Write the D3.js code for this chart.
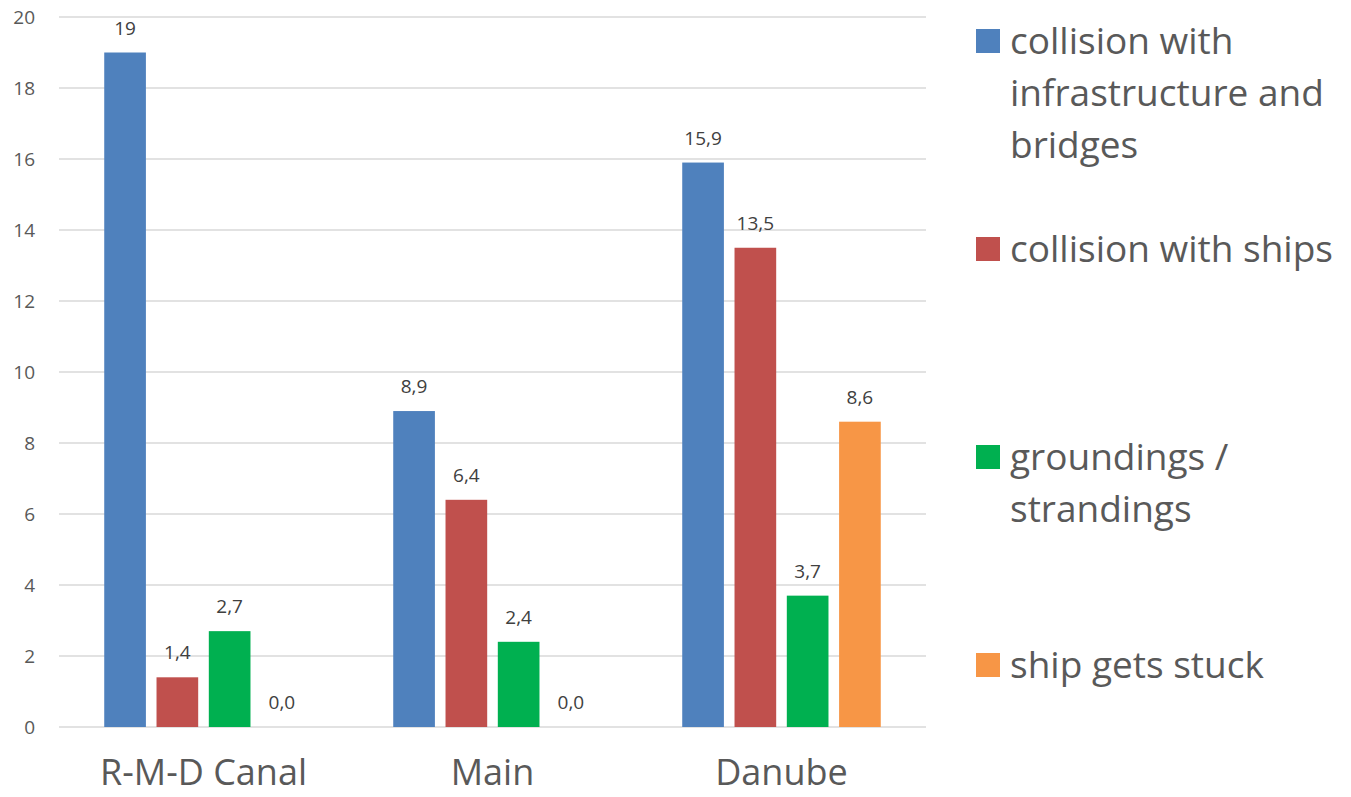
<!DOCTYPE html>
<html>
<head>
<meta charset="utf-8">
<script src="https://cdn.jsdelivr.net/npm/d3@7"></script>
<style>
  html, body { margin: 0; padding: 0; background: #fff; }
  svg { display: block; font-family: "Open Sans", "Noto Sans", sans-serif; }
</style>
</head>
<body>
<svg id="chart" width="1351" height="797"></svg>
<script>
// Waterways and accident types
const categories = ["R-M-D Canal", "Main", "Danube"];
const seriesNames = [
  "collision with infrastructure and bridges",
  "collision with ships",
  "groundings / strandings",
  "ship gets stuck"
];
const collisionInfrastructure = [19, 8.9, 15.9];
const collisionShips = [1.4, 6.4, 13.5];
const groundings = [2.7, 2.4, 3.7];
const shipStuck = [0.0, 0.0, 8.6];
const yTicks = [0, 2, 4, 6, 8, 10, 12, 14, 16, 18, 20];

const seriesValues = [collisionInfrastructure, collisionShips, groundings, shipStuck];
const colors = ["#4F81BD", "#C0504D", "#00B050", "#F79646"];

// Legend entries wrapped onto lines
const legendLines = [
  ["collision with", "infrastructure and", "bridges"],
  ["collision with ships"],
  ["groundings /", "strandings"],
  ["ship gets stuck"]
];

const svg = d3.select("#chart");
const plot = { left: 59, right: 926, top: 17, bottom: 727 };

const x0 = d3.scaleBand().domain(categories).range([plot.left, plot.right]).padding(0);
const x1 = d3.scaleBand().domain(d3.range(seriesNames.length))
  .range([0, x0.bandwidth()]).paddingInner(0.203).paddingOuter(0.865);
const y = d3.scaleLinear().domain([0, 20]).range([plot.bottom, plot.top]);

// Gridlines
svg.append("g").selectAll("line").data(yTicks).join("line")
  .attr("x1", plot.left).attr("x2", plot.right)
  .attr("y1", d => y(d)).attr("y2", d => y(d))
  .attr("stroke", "#d9d9d9").attr("stroke-width", 1.3);

// Y axis tick labels
const yAxis = d3.axisLeft(y).tickValues(yTicks).tickSize(0).tickPadding(0);
const yg = svg.append("g").attr("transform", "translate(35,0)").call(yAxis);
yg.select(".domain").remove();
yg.selectAll("text").attr("font-size", 19).attr("fill", "#595959")
  .attr("font-family", "'Open Sans', sans-serif");

// Category labels
const xAxis = d3.axisBottom(x0).tickSize(0).tickPadding(0);
const xg = svg.append("g").attr("transform", "translate(0,767)").call(xAxis);
xg.select(".domain").remove();
xg.selectAll("text").attr("font-size", 36).attr("fill", "#595959")
  .attr("font-family", "'Open Sans', sans-serif").attr("dy", "0.5em");

const fmt = v => (v % 1 === 0 && v > 0) ? String(v) : d3.format(".1f")(v).replace(".", ",");

// Bars and value labels
const groups = svg.append("g").selectAll("g").data(categories).join("g")
  .attr("transform", c => `translate(${x0(c)},0)`);

groups.each(function (c, ci) {
  const g = d3.select(this);
  const data = seriesValues.map((vals, si) => ({ si, v: vals[ci] }));
  g.selectAll("rect").data(data).join("rect")
    .attr("x", d => x1(d.si)).attr("width", x1.bandwidth())
    .attr("y", d => y(d.v)).attr("height", d => y(0) - y(d.v))
    .attr("fill", d => colors[d.si]);
  g.selectAll("text").data(data).join("text")
    .attr("x", d => x1(d.si) + x1.bandwidth() / 2)
    .attr("y", d => y(d.v) - 18)
    .attr("text-anchor", "middle")
    .attr("font-size", 19).attr("fill", "#404040")
    .text(d => fmt(d.v));
});

// Legend
const legendTop = [41, 249, 457, 665];
const lg = svg.append("g");
legendLines.forEach((lines, i) => {
  lg.append("rect").attr("x", 976).attr("y", legendTop[i] - 12)
    .attr("width", 24).attr("height", 24).attr("fill", colors[i]);
  lines.forEach((t, li) => {
    lg.append("text").attr("x", 1010).attr("y", legendTop[i] + li * 52)
      .attr("dy", "0.36em").attr("font-size", 37).attr("fill", "#595959")
      .text(t);
  });
});
</script>
</body>
</html>
